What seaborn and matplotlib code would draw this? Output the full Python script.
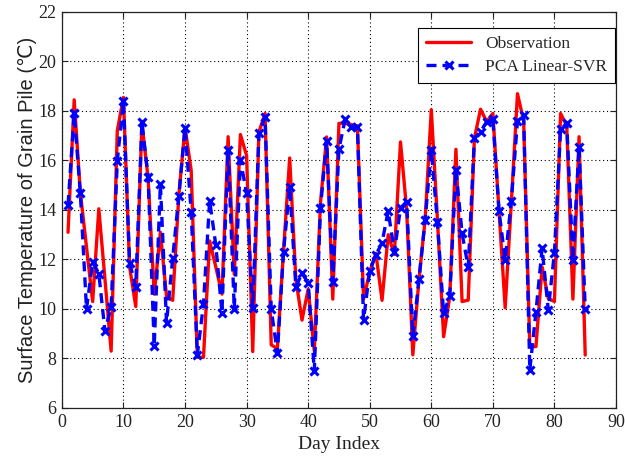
import numpy as np
import pandas as pd
import matplotlib
matplotlib.use("Agg")
import matplotlib.pyplot as plt
import seaborn as sns

days = list(range(1, 86))

observation = [
    13.1, 18.45, 14.7, 12.5, 10.3, 14.05, 11.2, 8.3, 17.2, 18.55,
    11.7, 10.1, 17.5, 15.3, 10.6, 13.1, 10.5, 10.35, 14.6, 17.35,
    15.6, 8.05, 8.05, 12.75, 11.7, 10.6, 16.96, 11.4, 17.05, 16.2,
    8.28, 17.15, 17.9, 8.55, 8.4, 12.35, 16.1, 11.2, 9.55, 10.8,
    8.3, 14.3, 16.95, 10.4, 17.5, 17.5, 17.45, 17.4, 10.4, 11.5,
    12.25, 10.35, 13.0, 12.2, 16.75, 14.0, 8.15, 11.2, 13.6, 18.05,
    13.6, 8.88, 10.5, 16.45, 10.3, 10.36, 16.9, 18.07, 17.57, 17.9,
    13.96, 10.05, 14.3, 18.7, 17.6, 8.48, 8.48, 11.7, 10.43, 10.3,
    17.9, 17.4, 10.4, 16.96, 8.14,
]

pca_svr = [
    14.2, 17.9, 14.67, 10.0, 11.9, 11.43, 9.1, 10.1, 15.98, 18.4,
    11.87, 10.9, 17.55, 15.35, 8.5, 15.04, 9.45, 12.05, 14.58, 17.33,
    13.93, 8.15, 10.2, 14.38, 12.58, 9.85, 16.44, 10.0, 16.02, 14.67,
    10.05, 17.1, 17.74, 10.0, 8.21, 12.32, 14.93, 10.9, 11.44, 11.06,
    7.5, 14.07, 16.8, 11.1, 16.46, 17.66, 17.34, 17.34, 9.56, 11.55,
    12.18, 12.68, 13.96, 12.3, 14.08, 14.34, 8.9, 11.2, 13.6, 16.42,
    13.5, 9.82, 10.52, 15.62, 13.06, 11.68, 16.9, 17.16, 17.57, 17.66,
    13.96, 11.98, 14.38, 17.6, 17.84, 7.54, 9.89, 12.45, 9.96, 12.28,
    17.26, 17.5, 11.98, 16.56, 10.0,
]

df = pd.DataFrame({"day": days, "obs": observation, "pred": pca_svr})

sns.set_style("ticks")
plt.rcParams["font.family"] = ["Liberation Serif", "DejaVu Serif"]

fig = plt.figure(figsize=(6.25, 4.65), dpi=100)
ax = fig.add_axes([0.099, 0.1226, 0.8866, 0.8516])

sns.lineplot(data=df, x="day", y="obs", ax=ax, color="#ff0000", linewidth=2.4,
             label="Observation")
sns.lineplot(data=df, x="day", y="pred", ax=ax, color="#0000ff", linewidth=2.4,
             linestyle=(0, (3, 1.8)), marker="x", markersize=5.5,
             markeredgewidth=2.2, markeredgecolor="#0000ff",
             label="PCA Linear-SVR")

ax.set_xlim(0, 90)
ax.set_ylim(6, 22)
ax.set_xticks(np.arange(0, 91, 10))
ax.set_yticks(np.arange(6, 23, 2))
ax.tick_params(direction="in", top=True, right=True, labelsize=13, length=4,
               width=0.8, colors="#222222", pad=4)
ax.grid(True, linestyle=(0, (1, 2.5)), color="black", linewidth=0.8)
for sp in ax.spines.values():
    sp.set_linewidth(0.9)
    sp.set_color("#222222")

ax.set_xlabel("Day Index", fontsize=14, color="#222222")
ax.set_ylabel("Surface Temperature of Grain Pile (\u2103)", fontsize=14.5,
              family=["Liberation Sans", "DejaVu Sans"], color="#222222",
              labelpad=1)

leg = ax.legend(loc="upper right", fontsize=12.5, frameon=True, fancybox=False,
                edgecolor="black", framealpha=1, handlelength=2.6,
                borderpad=0.45, labelspacing=0.4, borderaxespad=0,
                bbox_to_anchor=(0.998, 0.96))
leg.get_frame().set_linewidth(0.8)

fig.savefig("out.png", dpi=100)
